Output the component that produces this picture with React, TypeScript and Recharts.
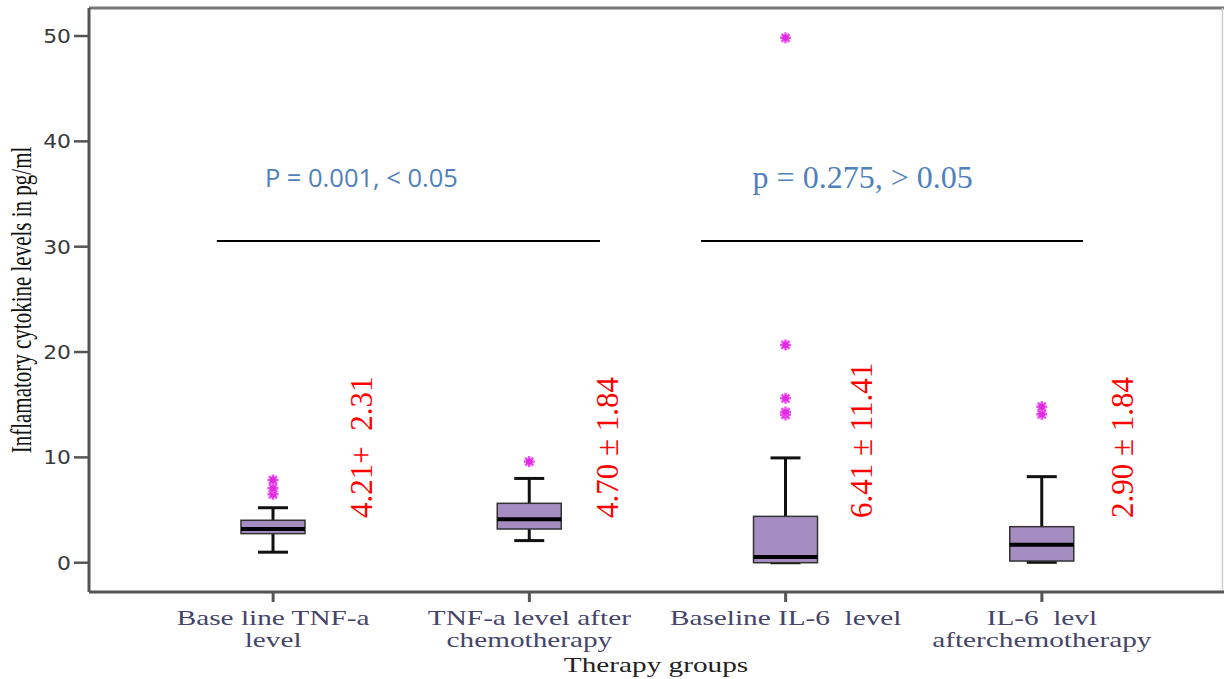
import React from 'react';
import { ComposedChart, Bar, XAxis, YAxis, ReferenceLine, ReferenceDot, Label } from 'recharts';

// ---- data ----
const categories = ['Base line TNF-a level', 'TNF-a level after chemotherapy', 'Baseline IL-6 level', 'IL-6 levl afterchemotherapy'];
const tickLine1 = ['Base line TNF-a', 'TNF-a level after', 'Baseline IL-6  level', 'IL-6  levl'];
const tickLine2 = ['level', 'chemotherapy', '', 'afterchemotherapy'];
const whiskerLow = [1.0, 2.1, 0.0, 0.04];
const q1s = [2.76, 3.2, 0.0, 0.16];
const medians = [3.2, 4.12, 0.55, 1.71];
const q3s = [4.03, 5.64, 4.4, 3.42];
const whiskerHigh = [5.22, 8.0, 9.95, 8.17];
const outliers = [[6.5, 7.07, 7.85], [9.6], [14.03, 14.3, 15.61, 20.67, 49.83], [14.09, 14.81]];
const yTicks = [0, 10, 20, 30, 40, 50];

const meanSdLabels = ['4.21+  2.31', '4.70 \u00b1 1.84', '6.41 \u00b1 11.41', '2.90 \u00b1 1.84'];
const meanSdX = [1.385, 2.345, 3.337, 4.355];
const meanSdY = 4.24;

const pTexts = ['P = 0.001, < 0.05', 'p = 0.275, > 0.05'];
const pX = [1.344, 3.3];
const pY = [35.67, 35.57];
const bracketY = 30.54;
const bracketX = [[0.78, 2.275], [2.669, 4.16]];

const rows = categories.map((name, i) => ({
  name,
  pos: i + 1,
  low: whiskerLow[i],
  q1: q1s[i],
  med: medians[i],
  q3: q3s[i],
  high: whiskerHigh[i],
  out: outliers[i],
  range: [whiskerLow[i], whiskerHigh[i]],
}));

const Y_DOMAIN: [number, number] = [-2.78, 52.66];
const X_NUM_DOMAIN: [number, number] = [0.281, 4.71];

const BoxShape = (props: any) => {
  const { x, y, width, height, payload } = props;
  if (payload == null) return null;
  const top = Math.min(y, y + height);
  const bot = Math.max(y, y + height);
  const lo = payload.low;
  const hi = payload.high;
  const py = (v: number) => bot - ((bot - top) * (v - lo)) / (hi - lo);
  const cx = x + width / 2;
  const capW = 15;
  return (
    <g>
      <line x1={cx} x2={cx} y1={py(hi)} y2={py(payload.q3)} stroke="#111" strokeWidth={3} />
      <line x1={cx} x2={cx} y1={py(payload.q1)} y2={py(lo)} stroke="#111" strokeWidth={3} />
      <line x1={cx - capW} x2={cx + capW} y1={py(hi)} y2={py(hi)} stroke="#111" strokeWidth={3} />
      <line x1={cx - capW} x2={cx + capW} y1={py(lo)} y2={py(lo)} stroke="#111" strokeWidth={3} />
      <rect x={x} y={py(payload.q3)} width={width} height={py(payload.q1) - py(payload.q3)} fill="#a68dc1" stroke="#333" strokeWidth={1.5} />
      <line x1={x} x2={x + width} y1={py(payload.med)} y2={py(payload.med)} stroke="#000" strokeWidth={4} />
      {payload.out.map((v: number, k: number) => {
        const oy = py(v);
        return (
          <g key={k}>
            <line x1={cx - 5.5} x2={cx + 5.5} y1={oy} y2={oy} stroke="#f04ef0" strokeWidth={2.5} />
            <line x1={cx} x2={cx} y1={oy - 5.5} y2={oy + 5.5} stroke="#f04ef0" strokeWidth={2.5} />
            <line x1={cx - 4} x2={cx + 4} y1={oy - 4} y2={oy + 4} stroke="#f04ef0" strokeWidth={2.5} />
            <line x1={cx - 4} x2={cx + 4} y1={oy + 4} y2={oy - 4} stroke="#f04ef0" strokeWidth={2.5} />
            <circle cx={cx} cy={oy} r={3.2} fill="#e02ce0" />
          </g>
        );
      })}
    </g>
  );
};

const CatTick = (props: any) => {
  const { x, y, payload } = props;
  const i = payload.index;
  return (
    <g transform={`translate(${x},${y})`}>
      <text transform="scale(1.33,1)" textAnchor="middle" fontFamily="Liberation Serif" fontSize={22} fill="#45456a" style={{ whiteSpace: 'pre' }}>
        <tspan x={0} y={23}>{tickLine1[i]}</tspan>
        <tspan x={0} y={45}>{tickLine2[i]}</tspan>
      </text>
    </g>
  );
};

const YTick = (props: any) => {
  const { x, y, payload } = props;
  return (
    <g transform={`translate(${x},${y})`}>
      <text transform="scale(1.15,1)" x={0} y={0} dy="0.36em" textAnchor="end" fontFamily="DejaVu Sans" fontSize={19} fill="#3a3a3a">
        {payload.value}
      </text>
    </g>
  );
};

const makeRedText = (txt: string) => (p: any) => (
  <text
    x={p.cx}
    y={p.cy}
    transform={`rotate(-90 ${p.cx} ${p.cy})`}
    textAnchor="start"
    fontSize={31}
    fill="#ff0000"
    style={{ whiteSpace: 'pre', fontFamily: "'Liberation Serif', serif" }}
  >
    {txt}
  </text>
);

const makePText = (txt: string, idx: number) => (p: any) => (
  <text
    x={p.cx}
    y={p.cy}
    textAnchor="middle"
    fontSize={idx === 0 ? 25.5 : 32}
    fill="#4f81bd"
    style={{ fontFamily: idx === 0 ? "'Open Sans', sans-serif" : "'Liberation Serif', serif" }}
  >
    {txt}
  </text>
);

export default function App() {
  return (
    <div style={{ position: 'absolute', left: 0, top: 0, background: '#fff' }}>
      <ComposedChart width={1225} height={679} data={rows} margin={{ top: 8, right: 1, bottom: 0, left: 0 }}>
        <XAxis
          xAxisId="cat"
          dataKey="name"
          type="category"
          height={87}
          padding={{ left: 56, right: 54 }}
          interval={0}
          tickSize={10}
          tickMargin={0}
          axisLine={{ stroke: '#555', strokeWidth: 3 }}
          tickLine={{ stroke: '#555', strokeWidth: 3 }}
          tick={<CatTick />}
        >
          <Label
            content={() => (
              <text transform="translate(656,672) scale(1.33,1)" x={0} y={0} textAnchor="middle" fontFamily="Liberation Serif" fontSize={22} fill="#222">
                Therapy groups
              </text>
            )}
          />
        </XAxis>
        <XAxis xAxisId="num" dataKey="pos" type="number" domain={X_NUM_DOMAIN} allowDataOverflow hide />
        <YAxis
          width={89}
          type="number"
          domain={Y_DOMAIN}
          allowDataOverflow
          ticks={yTicks}
          interval={0}
          tickSize={15}
          tickMargin={3}
          axisLine={{ stroke: '#555', strokeWidth: 3 }}
          tickLine={{ stroke: '#555', strokeWidth: 2.5 }}
          tick={<YTick />}
        >
          <Label
            content={() => (
              <text transform="translate(31,300) rotate(-90) scale(1,1.4)" x={0} y={0} textAnchor="middle" fontFamily="Liberation Serif" fontSize={21} fill="#111">
                Inflamatory cytokine levels in pg/ml
              </text>
            )}
          />
        </YAxis>
        <ReferenceLine xAxisId="num" y={Y_DOMAIN[1]} stroke="#777" strokeWidth={3} />
        <ReferenceLine xAxisId="num" x={X_NUM_DOMAIN[1] - 0.006} stroke="#cfcfcf" strokeWidth={1.5} />
        <Bar xAxisId="cat" dataKey="range" barSize={64} shape={BoxShape} isAnimationActive={false} />
        {bracketX.map((seg, i) => (
          <ReferenceLine
            key={`br${i}`}
            xAxisId="num"
            segment={[{ x: seg[0], y: bracketY }, { x: seg[1], y: bracketY }]}
            stroke="#000"
            strokeWidth={2}
          />
        ))}
        {pTexts.map((t, i) => (
          <ReferenceDot key={`p${i}`} xAxisId="num" x={pX[i]} y={pY[i]} r={0} shape={makePText(t, i)} />
        ))}
        {meanSdLabels.map((t, i) => (
          <ReferenceDot key={`m${i}`} xAxisId="num" x={meanSdX[i]} y={meanSdY} r={0} shape={makeRedText(t)} />
        ))}
      </ComposedChart>
    </div>
  );
}
